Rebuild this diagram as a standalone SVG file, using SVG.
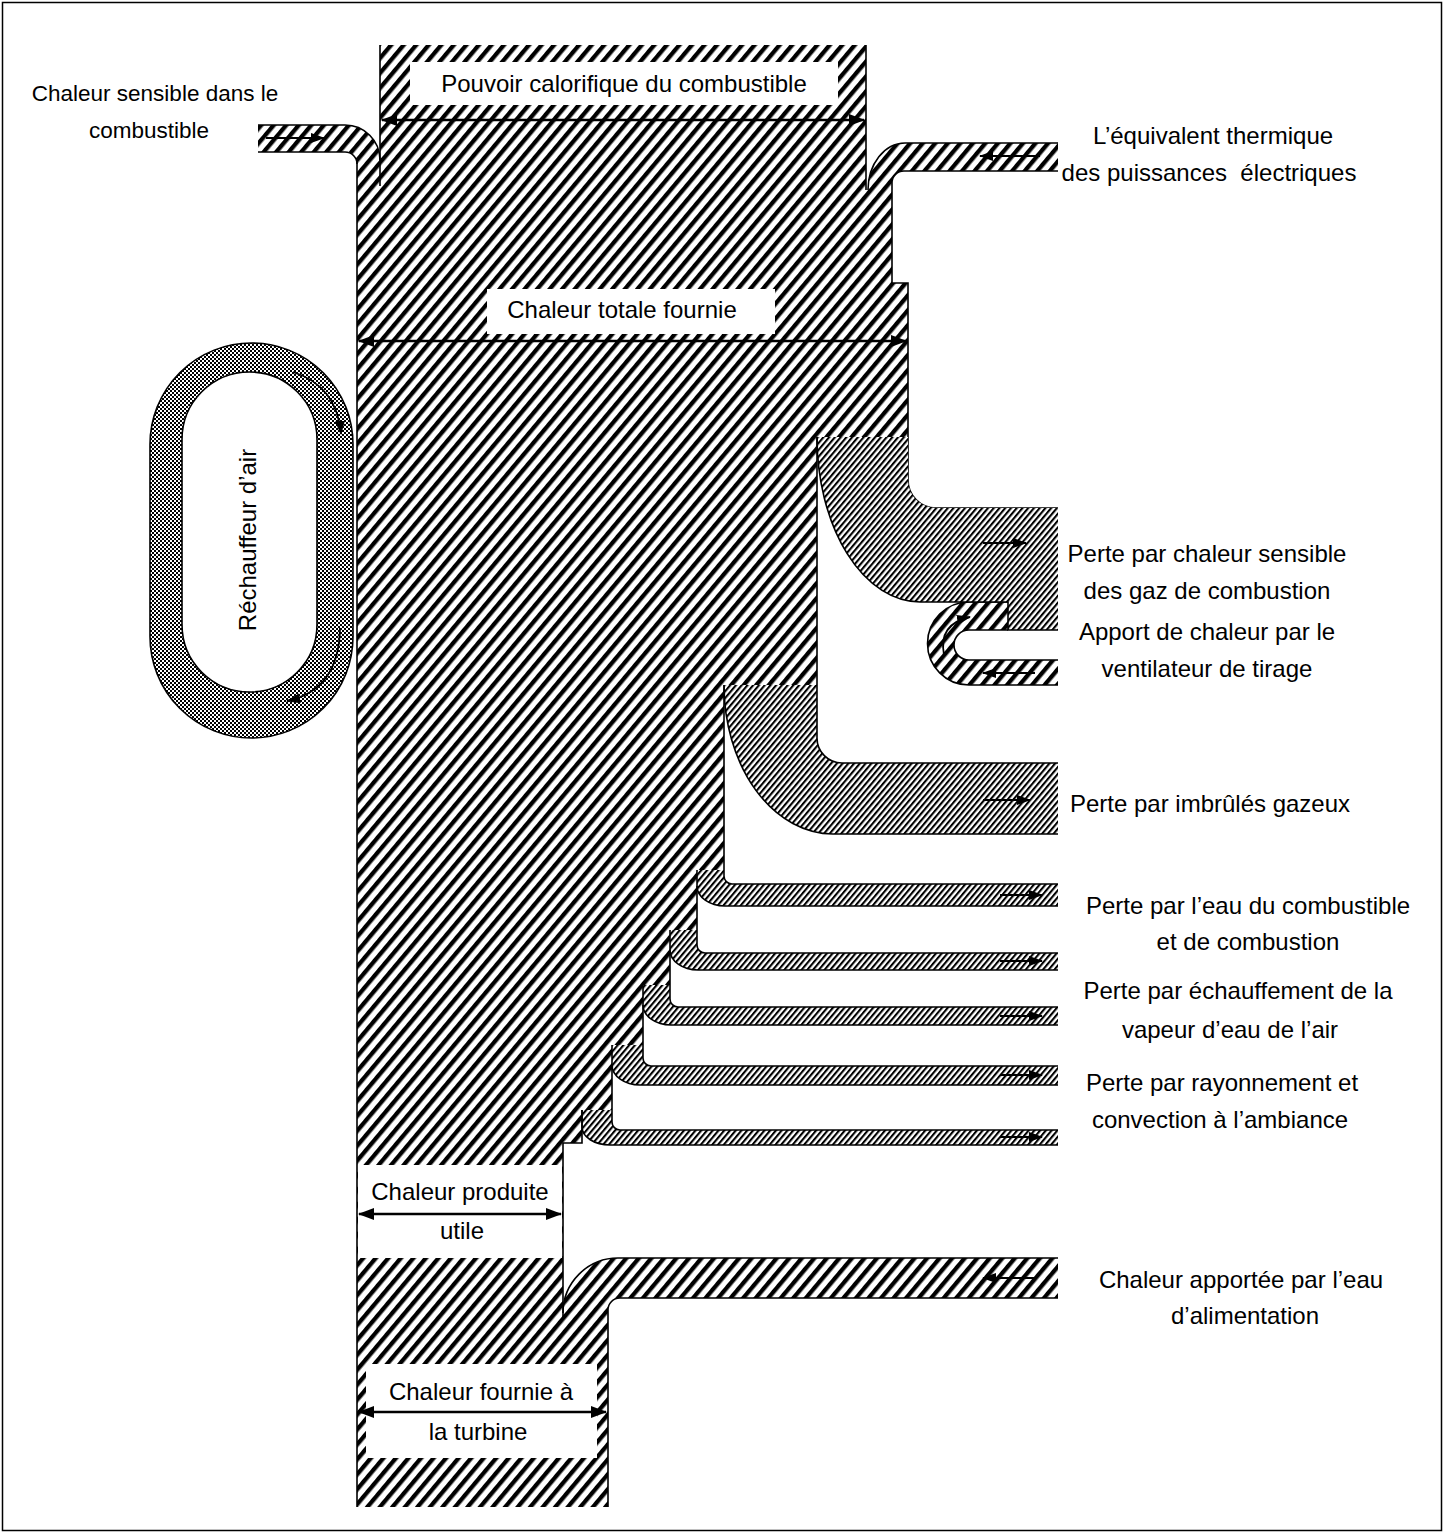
<svg xmlns="http://www.w3.org/2000/svg" width="1445" height="1534" viewBox="0 0 1445 1534">
  <style>
    .t { font-family: "Liberation Sans", Arial, sans-serif; font-size: 24px; fill: #000; text-anchor: middle; }
    .t2 { font-size: 22.5px; }
    .edge { fill: none; stroke: #000; stroke-width: 1.6; }
    .coarse { fill: url(#hatchCoarse); }
    .fine { fill: url(#hatchFine); }
    .dim { fill: none; stroke: #000; stroke-width: 2.4; marker-start: url(#headBig); marker-end: url(#headBig); }
    .flowArrow { fill: none; stroke: #000; stroke-width: 1.8; marker-end: url(#headSmall); }
    .box { fill: #fff; }
  </style>
  <defs>
    <pattern id="hatchCoarse" width="9.6" height="9.6" patternUnits="userSpaceOnUse" patternTransform="rotate(40)">
      <rect width="9.6" height="9.6" fill="#fff"/>
      <rect width="4.3" height="9.6" fill="#000"/>
    </pattern>
    <pattern id="hatchFine" width="4.4" height="4.4" patternUnits="userSpaceOnUse" patternTransform="rotate(40)">
      <rect width="4.4" height="4.4" fill="#fff"/>
      <rect width="2.1" height="4.4" fill="#000"/>
    </pattern>
    <pattern id="stipple" width="4" height="4" patternUnits="userSpaceOnUse">
      <rect width="4" height="4" fill="#fff"/>
      <rect width="2" height="2" fill="#000"/>
      <rect x="2" y="2" width="2" height="2" fill="#000"/>
    </pattern>
    <marker id="headBig" viewBox="0 0 16 12" refX="15" refY="6" markerWidth="16" markerHeight="12" markerUnits="userSpaceOnUse" orient="auto-start-reverse">
      <path d="M0,0 L16,6 L0,12 Z" fill="#000"/>
    </marker>
    <marker id="headSmall" viewBox="0 0 14 10" refX="13" refY="5" markerWidth="14" markerHeight="10" markerUnits="userSpaceOnUse" orient="auto">
      <path d="M0,0 L14,5 L0,10 Z" fill="#000"/>
    </marker>
  </defs>

  <rect x="2.5" y="2.5" width="1439" height="1528" fill="#fff" stroke="#000" stroke-width="1.5"/>

  <!-- main boiler column -->
  <g id="column">
    <path class="coarse" d="M380,45 H866 V190 H892 V283 H908 V437 H817 V685 H724 V870 H697 V930 H670 V985 H643 V1045 H612 V1110 H582 V1143 H563 V1313 H608 V1507 H357 V160 H380 Z"/>
  </g>

  <!-- incoming flows -->
  <g id="fuel-sensible-heat">
    <path class="coarse" d="M258,125 H345 A35,35 0 0 1 380,160 V200 H357 V164 A12,12 0 0 0 345,152 H258 Z"/>
    <path class="edge" d="M258,125 H345 A35,35 0 0 1 380,160 M258,152 H345 A12,12 0 0 1 357,164"/>
    <text class="t t2" x="155" y="101">Chaleur sensible dans le</text>
    <text class="t t2" x="149" y="138">combustible</text>
  </g>

  <g id="electric-power">
    <path class="coarse" d="M1058,143 H905 A37,47 0 0 0 868,190 H892 V183 A12,12 0 0 1 904,171 H1058 Z"/>
    <path class="edge" d="M1058,143 H905 A37,47 0 0 0 868,190 M1058,171 H904 A12,12 0 0 0 892,183 V283 H908 V480 A28,28 0 0 0 936,508 H1058"/>
    <text class="t" x="1213" y="144">L’équivalent thermique</text>
    <text class="t" x="1209" y="181" xml:space="preserve">des puissances  électriques</text>
  </g>

  <g id="feedwater">
    <path class="coarse" d="M1058,1258 H618 A55,55 0 0 0 563,1313 H608 V1310 A12,12 0 0 1 620,1298 H1058 Z"/>
    <path class="edge" d="M1058,1258 H618 A55,55 0 0 0 563,1313 M1058,1298 H620 A12,12 0 0 0 608,1310 V1507"/>
    <text class="t" x="1241" y="1288">Chaleur apportée par l’eau</text>
    <text class="t" x="1245" y="1324">d’alimentation</text>
  </g>

  <g id="draft-fan">
    <path class="coarse" d="M1008,602 H969 A41.5,41.5 0 0 0 969,685 H1058 V660 H969 A15,15 0 0 1 969,630 H1008 Z"/>
    <path class="edge" d="M1008,602 H969 A41.5,41.5 0 0 0 969,685 H1058 M1008,630 H969 A15,15 0 0 0 969,660 H1058"/>
    <text class="t" x="1207" y="640">Apport de chaleur par le</text>
    <text class="t" x="1207" y="677">ventilateur de tirage</text>
  </g>

  <!-- outgoing losses -->
  <g id="flue-gas-loss">
    <path class="fine" d="M817,437 H908 V480 A28,28 0 0 0 936,508 H1058 V630 H1008 V602 H920 A103,165 0 0 1 817,437 Z"/>
    <path class="edge" d="M817,437 A103,165 0 0 0 920,602 H1008 V630 H1058"/>
    <text class="t" x="1207" y="562">Perte par chaleur sensible</text>
    <text class="t" x="1207" y="599">des gaz de combustion</text>
  </g>

  <g id="unburnt-gas-loss">
    <path class="fine" d="M724,685 H817 V738 A25,25 0 0 0 842,763 H1058 V834 H833 A109,149 0 0 1 724,685 Z"/>
    <path class="edge" d="M817,437 V738 A25,25 0 0 0 842,763 H1058 M724,685 A109,149 0 0 0 833,834 H1058"/>
    <text class="t" x="1210" y="812">Perte par imbrûlés gazeux</text>
  </g>

  <g id="moisture-loss">
    <path class="fine" d="M697,870 H724 V876 A8,8 0 0 0 732,884 H1058 V906 H725 A28,20 0 0 1 697,886 Z"/>
    <path class="edge" d="M724,685 V876 A8,8 0 0 0 732,884 H1058 M697,870 V886 A28,20 0 0 0 725,906 H1058"/>
    <text class="t" x="1248" y="914">Perte par l’eau du combustible</text>
    <text class="t" x="1248" y="950">et de combustion</text>
  </g>

  <g id="air-humidity-loss">
    <path class="fine" d="M670,930 H697 V945 A8,8 0 0 0 705,953 H1058 V970 H698 A28,20 0 0 1 670,950 Z"/>
    <path class="edge" d="M697,886 V945 A8,8 0 0 0 705,953 H1058 M670,930 V950 A28,20 0 0 0 698,970 H1058"/>
    <text class="t" x="1238" y="999">Perte par échauffement de la</text>
    <text class="t" x="1230" y="1038">vapeur d’eau de l’air</text>
  </g>

  <g id="radiation-loss">
    <path class="fine" d="M643,985 H670 V999 A8,8 0 0 0 678,1007 H1058 V1025 H671 A28,20 0 0 1 643,1005 Z"/>
    <path class="edge" d="M670,950 V999 A8,8 0 0 0 678,1007 H1058 M643,985 V1005 A28,20 0 0 0 671,1025 H1058"/>
    <text class="t" x="1222" y="1091">Perte par rayonnement et</text>
    <text class="t" x="1220" y="1128">convection à l’ambiance</text>
  </g>

  <g id="loss-strip-4">
    <path class="fine" d="M612,1045 H643 V1058 A8,8 0 0 0 651,1066 H1058 V1085 H640 A28,20 0 0 1 612,1065 Z"/>
    <path class="edge" d="M643,1005 V1058 A8,8 0 0 0 651,1066 H1058 M612,1045 V1065 A28,20 0 0 0 640,1085 H1058"/>
  </g>

  <g id="loss-strip-5">
    <path class="fine" d="M582,1110 H612 V1122 A8,8 0 0 0 620,1130 H1058 V1145 H610 A28,18 0 0 1 582,1127 Z"/>
    <path class="edge" d="M612,1065 V1122 A8,8 0 0 0 620,1130 H1058 M582,1110 V1127 A28,18 0 0 0 610,1145 H1058"/>
  </g>

  <!-- dimension labels on the column -->
  <g id="label-fuel-value">
    <rect class="box" x="410" y="62" width="428" height="43"/>
    <text class="t" x="624" y="92">Pouvoir calorifique du combustible</text>
  </g>
  <g id="label-total-heat">
    <rect class="box" x="487" y="289" width="288" height="45"/>
    <text class="t" x="622" y="318">Chaleur totale fournie</text>
  </g>
  <g id="label-useful-heat">
    <rect class="box" x="358" y="1165" width="204" height="93"/>
    <text class="t" x="460" y="1200">Chaleur produite</text>
    <text class="t" x="462" y="1239">utile</text>
  </g>
  <g id="label-turbine-heat">
    <rect class="box" x="366" y="1364" width="231" height="94"/>
    <text class="t" x="481" y="1400">Chaleur fournie à</text>
    <text class="t" x="478" y="1440">la turbine</text>
  </g>

  <!-- column outlines -->
  <g id="column-edges">
    <path class="edge" d="M380,45 V186 M866,45 V190 M357,160 V1507 M582,1110 V1143 H563 V1320"/>
  </g>

  <!-- air preheater loop -->
  <g id="air-preheater">
    <path d="M150,444.5 A101.5,101.5 0 0 1 353,444.5 V636.5 A101.5,101.5 0 0 1 150,636.5 Z M182,439.5 A67.5,67.5 0 0 1 317,439.5 V624.5 A67.5,67.5 0 0 1 182,624.5 Z" fill="url(#stipple)" fill-rule="evenodd" stroke="#000" stroke-width="1.6"/>
    <text class="t" transform="translate(256,540) rotate(-90)">Réchauffeur d’air</text>
  </g>

  <!-- connectors: dimension arrows and flow direction arrows -->
  <g id="connectors">
    <path class="dim" d="M382,120 H864"/>
    <path class="dim" d="M359,341 H906"/>
    <path class="dim" d="M359,1214 H561"/>
    <path class="dim" d="M359,1412 H606"/>

    <path class="flowArrow" d="M266,138 H324"/>
    <path class="flowArrow" d="M1040,156 H980"/>
    <path class="flowArrow" d="M983,543 H1026"/>
    <path class="flowArrow" d="M944,655 Q938,624 970,617"/>
    <path class="flowArrow" d="M1035,673 H983"/>
    <path class="flowArrow" d="M983,800 H1030"/>
    <path class="flowArrow" d="M1000,895 H1042"/>
    <path class="flowArrow" d="M1000,961 H1042"/>
    <path class="flowArrow" d="M1000,1016 H1042"/>
    <path class="flowArrow" d="M1000,1075 H1042"/>
    <path class="flowArrow" d="M1000,1137 H1042"/>
    <path class="flowArrow" d="M1035,1278 H983"/>
    <path class="flowArrow" d="M293,372 Q337,386 341,434"/>
    <path class="flowArrow" d="M340,628 Q339,690 287,701"/>
  </g>
</svg>
